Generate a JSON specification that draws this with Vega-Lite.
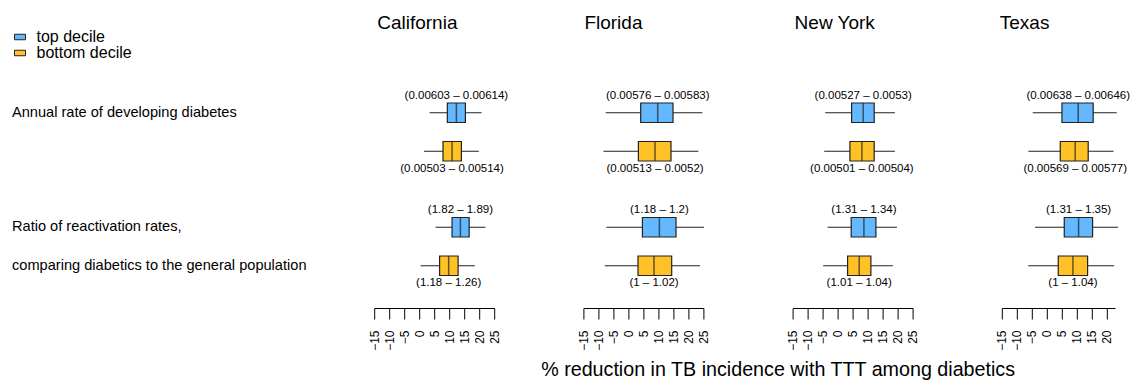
{
  "$schema": "https://vega.github.io/schema/vega-lite/v6.json",
  "padding": {"left": 12, "top": 13.5, "right": 5, "bottom": 5},
  "autosize": {"type": "pad"},
  "bounds": "flush",
  "spacing": 89.2,
  "config": {
    "font": "Liberation Sans",
    "view": {"stroke": null},
    "axis": {"grid": false, "domainColor": "black", "tickColor": "black", "labelColor": "black", "titleColor": "black", "labelFont": "Liberation Sans", "titleFont": "Liberation Sans"},
    "axisX": {"labelAngle": -90, "tickSize": 11, "labelPadding": 11, "labelFontSize": 12, "labelOverlap": false, "labelFlush": false, "labelBound": false,
      "titleFontSize": 19.7, "titleFontWeight": "normal", "titleX": -15, "titleY": 61, "titleAlign": "center", "titleBaseline": "middle"},
    "legend": {"rowPadding": -4, "padding": 0},
    "title": {"font": "Liberation Sans", "color": "black", "fontWeight": "normal", "frame": "group", "anchor": "start", "align": "left", "fontSize": 19, "offset": 38}
  },
  "resolve": {"scale": {"x": "independent"}},
  "datasets": {
    "boxes": [
      {"state": "California", "measure": "Annual", "decile": "top decile", "lo": 3.45, "q1": 9.38, "med": 12.4, "q3": 15.4, "hi": 20.8, "label": "(0.00603 – 0.00614)"},
      {"state": "California", "measure": "Annual", "decile": "bottom decile", "lo": 1.57, "q1": 7.94, "med": 10.95, "q3": 14.07, "hi": 19.87, "label": "(0.00503 – 0.00514)"},
      {"state": "California", "measure": "Ratio", "decile": "top decile", "lo": 5.46, "q1": 10.95, "med": 13.74, "q3": 16.65, "hi": 22.1, "label": "(1.82 – 1.89)"},
      {"state": "California", "measure": "Ratio", "decile": "bottom decile", "lo": 0.44, "q1": 6.8, "med": 9.82, "q3": 12.97, "hi": 18.53, "label": "(1.18 – 1.26)"},
      {"state": "Florida", "measure": "Annual", "decile": "top decile", "lo": -7.57, "q1": 4.1, "med": 9.77, "q3": 14.87, "hi": 24.67, "label": "(0.00576 – 0.00583)"},
      {"state": "Florida", "measure": "Annual", "decile": "bottom decile", "lo": -8.33, "q1": 3.33, "med": 8.87, "q3": 14.2, "hi": 23.33, "label": "(0.00513 – 0.0052)"},
      {"state": "Florida", "measure": "Ratio", "decile": "top decile", "lo": -7.33, "q1": 4.67, "med": 10.33, "q3": 15.87, "hi": 25.2, "label": "(1.18 – 1.2)"},
      {"state": "Florida", "measure": "Ratio", "decile": "bottom decile", "lo": -7.9, "q1": 3.2, "med": 8.53, "q3": 14.43, "hi": 23.87, "label": "(1 – 1.02)"},
      {"state": "New York", "measure": "Annual", "decile": "top decile", "lo": -4.13, "q1": 4.67, "med": 8.53, "q3": 12.2, "hi": 19.1, "label": "(0.00527 – 0.0053)"},
      {"state": "New York", "measure": "Annual", "decile": "bottom decile", "lo": -4.47, "q1": 4.1, "med": 8.1, "q3": 12.2, "hi": 19.1, "label": "(0.00501 – 0.00504)"},
      {"state": "New York", "measure": "Ratio", "decile": "top decile", "lo": -3.33, "q1": 4.53, "med": 8.77, "q3": 12.77, "hi": 19.77, "label": "(1.31 – 1.34)"},
      {"state": "New York", "measure": "Ratio", "decile": "bottom decile", "lo": -4.8, "q1": 3.33, "med": 7.2, "q3": 11.1, "hi": 18.43, "label": "(1.01 – 1.04)"},
      {"state": "Texas", "measure": "Annual", "decile": "top decile", "lo": -4.69, "q1": 5.05, "med": 10.47, "q3": 15.46, "hi": 23.34, "label": "(0.00638 – 0.00646)"},
      {"state": "Texas", "measure": "Annual", "decile": "bottom decile", "lo": -6.15, "q1": 4.49, "med": 9.47, "q3": 13.8, "hi": 22.24, "label": "(0.00569 – 0.00577)"},
      {"state": "Texas", "measure": "Ratio", "decile": "top decile", "lo": -3.92, "q1": 5.82, "med": 10.6, "q3": 15.26, "hi": 23.77, "label": "(1.31 – 1.35)"},
      {"state": "Texas", "measure": "Ratio", "decile": "bottom decile", "lo": -6.15, "q1": 3.82, "med": 8.71, "q3": 13.6, "hi": 22.44, "label": "(1 – 1.04)"}
    ],
    "rowlabels": [
      {"measure": "Annual", "decile": "top decile", "text": "Annual rate of developing diabetes"},
      {"measure": "Ratio", "decile": "top decile", "text": "Ratio of reactivation rates,"},
      {"measure": "Ratio", "decile": "bottom decile", "text": "comparing diabetics to the general population"}
    ]
  },
  "hconcat": [
    {
      "width": 272.1, "height": 237.5,
      "data": {"name": "rowlabels"},
      "mark": {"type": "text", "align": "left", "baseline": "middle", "fontSize": 14.6, "color": "black"},
      "encoding": {
        "x": {"value": 0},
        "y": {"field": "measure", "type": "nominal", "scale": {"domain": ["Annual", "Ratio"], "paddingInner": 0.3275, "paddingOuter": 0.2009}, "axis": null},
        "yOffset": {"field": "decile", "type": "nominal", "scale": {"domain": ["top decile", "bottom decile"], "paddingInner": 0, "paddingOuter": 0}},
        "text": {"field": "text"}
      }
    },
    {
      "title": {"text": "California", "dx": 3},
      "width": 120, "height": 237.5,
      "data": {"name": "boxes"},
      "transform": [{"filter": "datum.state === 'California'"}],
      "encoding": {
        "y": {"field": "measure", "type": "nominal", "scale": {"domain": ["Annual", "Ratio"], "paddingInner": 0.3275, "paddingOuter": 0.2009}, "axis": null},
        "yOffset": {"field": "decile", "type": "nominal", "scale": {"domain": ["top decile", "bottom decile"], "paddingInner": 0, "paddingOuter": 0}}
      },
      "layer": [
        {"mark": {"type": "rule", "color": "#222", "strokeWidth": 1.1},
         "encoding": {"x": {"field": "lo", "type": "quantitative", "title": null, "scale": {"domain": [-15, 25], "nice": false, "zero": false}, "axis": {"values": [-15, -10, -5, 0, 5, 10, 15, 20, 25]}},
           "x2": {"field": "hi"}}},
        {"mark": {"type": "bar", "size": 19.5, "stroke": "#222", "strokeWidth": 1.2},
         "encoding": {"x": {"field": "q1", "type": "quantitative", "title": null, "axis": {"values": [-15, -10, -5, 0, 5, 10, 15, 20, 25]}}, "x2": {"field": "q3"},
           "color": {"field": "decile", "type": "nominal", "scale": {"domain": ["top decile", "bottom decile"], "range": ["#63B8FF", "#FFC125"]},
             "legend": {"title": null, "orient": "none", "legendX": 0, "legendY": -41.5, "padding": 0, "labelFontSize": 16, "labelColor": "black", "labelOffset": 8.5, "rowPadding": -4, "symbolType": "M-1,-0.5H1V0.5H-1Z", "symbolSize": 121, "symbolStrokeColor": "#222", "symbolStrokeWidth": 1}}}},
        {"mark": {"type": "tick", "orient": "vertical", "size": 19.5, "thickness": 1.5, "color": "#222"},
         "encoding": {"x": {"field": "med", "type": "quantitative", "title": null, "axis": {"values": [-15, -10, -5, 0, 5, 10, 15, 20, 25]}}}},
        {"transform": [{"filter": "datum.decile === 'top decile'"}],
         "mark": {"type": "text", "dy": -17, "fontSize": 11.5, "color": "black", "baseline": "middle"},
         "encoding": {"x": {"field": "med", "type": "quantitative", "title": null, "axis": {"values": [-15, -10, -5, 0, 5, 10, 15, 20, 25]}}, "text": {"field": "label"}}},
        {"transform": [{"filter": "datum.decile === 'bottom decile'"}],
         "mark": {"type": "text", "dy": 17.5, "fontSize": 11.5, "color": "black", "baseline": "middle"},
         "encoding": {"x": {"field": "med", "type": "quantitative", "title": null, "axis": {"values": [-15, -10, -5, 0, 5, 10, 15, 20, 25]}}, "text": {"field": "label"}}}
      ]
    },
    {
      "title": {"text": "Florida", "dx": 1},
      "width": 120, "height": 237.5,
      "data": {"name": "boxes"},
      "transform": [{"filter": "datum.state === 'Florida'"}],
      "encoding": {
        "y": {"field": "measure", "type": "nominal", "scale": {"domain": ["Annual", "Ratio"], "paddingInner": 0.3275, "paddingOuter": 0.2009}, "axis": null},
        "yOffset": {"field": "decile", "type": "nominal", "scale": {"domain": ["top decile", "bottom decile"], "paddingInner": 0, "paddingOuter": 0}}
      },
      "layer": [
        {"mark": {"type": "rule", "color": "#222", "strokeWidth": 1.1},
         "encoding": {"x": {"field": "lo", "type": "quantitative", "title": null, "scale": {"domain": [-15, 25], "nice": false, "zero": false}, "axis": {"values": [-15, -10, -5, 0, 5, 10, 15, 20, 25]}},
           "x2": {"field": "hi"}}},
        {"mark": {"type": "bar", "size": 19.5, "stroke": "#222", "strokeWidth": 1.2},
         "encoding": {"x": {"field": "q1", "type": "quantitative", "title": null, "axis": {"values": [-15, -10, -5, 0, 5, 10, 15, 20, 25]}}, "x2": {"field": "q3"},
           "color": {"field": "decile", "type": "nominal", "scale": {"domain": ["top decile", "bottom decile"], "range": ["#63B8FF", "#FFC125"]},
             "legend": {"title": null, "orient": "none", "legendX": 0, "legendY": -41.5, "padding": 0, "labelFontSize": 16, "labelColor": "black", "labelOffset": 8.5, "rowPadding": -4, "symbolType": "M-1,-0.5H1V0.5H-1Z", "symbolSize": 121, "symbolStrokeColor": "#222", "symbolStrokeWidth": 1}}}},
        {"mark": {"type": "tick", "orient": "vertical", "size": 19.5, "thickness": 1.5, "color": "#222"},
         "encoding": {"x": {"field": "med", "type": "quantitative", "title": null, "axis": {"values": [-15, -10, -5, 0, 5, 10, 15, 20, 25]}}}},
        {"transform": [{"filter": "datum.decile === 'top decile'"}],
         "mark": {"type": "text", "dy": -17, "fontSize": 11.5, "color": "black", "baseline": "middle"},
         "encoding": {"x": {"field": "med", "type": "quantitative", "title": null, "axis": {"values": [-15, -10, -5, 0, 5, 10, 15, 20, 25]}}, "text": {"field": "label"}}},
        {"transform": [{"filter": "datum.decile === 'bottom decile'"}],
         "mark": {"type": "text", "dy": 17.5, "fontSize": 11.5, "color": "black", "baseline": "middle"},
         "encoding": {"x": {"field": "med", "type": "quantitative", "title": null, "axis": {"values": [-15, -10, -5, 0, 5, 10, 15, 20, 25]}}, "text": {"field": "label"}}}
      ]
    },
    {
      "title": {"text": "New York", "dx": 2},
      "width": 120, "height": 237.5,
      "data": {"name": "boxes"},
      "transform": [{"filter": "datum.state === 'New York'"}],
      "encoding": {
        "y": {"field": "measure", "type": "nominal", "scale": {"domain": ["Annual", "Ratio"], "paddingInner": 0.3275, "paddingOuter": 0.2009}, "axis": null},
        "yOffset": {"field": "decile", "type": "nominal", "scale": {"domain": ["top decile", "bottom decile"], "paddingInner": 0, "paddingOuter": 0}}
      },
      "layer": [
        {"mark": {"type": "rule", "color": "#222", "strokeWidth": 1.1},
         "encoding": {"x": {"field": "lo", "type": "quantitative", "title": "% reduction in TB incidence with TTT among diabetics", "scale": {"domain": [-15, 25], "nice": false, "zero": false}, "axis": {"values": [-15, -10, -5, 0, 5, 10, 15, 20, 25]}},
           "x2": {"field": "hi"}}},
        {"mark": {"type": "bar", "size": 19.5, "stroke": "#222", "strokeWidth": 1.2},
         "encoding": {"x": {"field": "q1", "type": "quantitative", "title": "% reduction in TB incidence with TTT among diabetics", "axis": {"values": [-15, -10, -5, 0, 5, 10, 15, 20, 25]}}, "x2": {"field": "q3"},
           "color": {"field": "decile", "type": "nominal", "scale": {"domain": ["top decile", "bottom decile"], "range": ["#63B8FF", "#FFC125"]},
             "legend": {"title": null, "orient": "none", "legendX": 0, "legendY": -41.5, "padding": 0, "labelFontSize": 16, "labelColor": "black", "labelOffset": 8.5, "rowPadding": -4, "symbolType": "M-1,-0.5H1V0.5H-1Z", "symbolSize": 121, "symbolStrokeColor": "#222", "symbolStrokeWidth": 1}}}},
        {"mark": {"type": "tick", "orient": "vertical", "size": 19.5, "thickness": 1.5, "color": "#222"},
         "encoding": {"x": {"field": "med", "type": "quantitative", "title": "% reduction in TB incidence with TTT among diabetics", "axis": {"values": [-15, -10, -5, 0, 5, 10, 15, 20, 25]}}}},
        {"transform": [{"filter": "datum.decile === 'top decile'"}],
         "mark": {"type": "text", "dy": -17, "fontSize": 11.5, "color": "black", "baseline": "middle"},
         "encoding": {"x": {"field": "med", "type": "quantitative", "title": "% reduction in TB incidence with TTT among diabetics", "axis": {"values": [-15, -10, -5, 0, 5, 10, 15, 20, 25]}}, "text": {"field": "label"}}},
        {"transform": [{"filter": "datum.decile === 'bottom decile'"}],
         "mark": {"type": "text", "dy": 17.5, "fontSize": 11.5, "color": "black", "baseline": "middle"},
         "encoding": {"x": {"field": "med", "type": "quantitative", "title": "% reduction in TB incidence with TTT among diabetics", "axis": {"values": [-15, -10, -5, 0, 5, 10, 15, 20, 25]}}, "text": {"field": "label"}}}
      ]
    },
    {
      "title": {"text": "Texas", "dx": -2},
      "width": 113.25, "height": 237.5,
      "data": {"name": "boxes"},
      "transform": [{"filter": "datum.state === 'Texas'"}],
      "encoding": {
        "y": {"field": "measure", "type": "nominal", "scale": {"domain": ["Annual", "Ratio"], "paddingInner": 0.3275, "paddingOuter": 0.2009}, "axis": null},
        "yOffset": {"field": "decile", "type": "nominal", "scale": {"domain": ["top decile", "bottom decile"], "paddingInner": 0, "paddingOuter": 0}}
      },
      "layer": [
        {"mark": {"type": "rule", "color": "#222", "strokeWidth": 1.1},
         "encoding": {"x": {"field": "lo", "type": "quantitative", "title": null, "scale": {"domain": [-15, 22.75], "nice": false, "zero": false}, "axis": {"values": [-15, -10, -5, 0, 5, 10, 15, 20]}},
           "x2": {"field": "hi"}}},
        {"mark": {"type": "bar", "size": 19.5, "stroke": "#222", "strokeWidth": 1.2},
         "encoding": {"x": {"field": "q1", "type": "quantitative", "title": null, "axis": {"values": [-15, -10, -5, 0, 5, 10, 15, 20]}}, "x2": {"field": "q3"},
           "color": {"field": "decile", "type": "nominal", "scale": {"domain": ["top decile", "bottom decile"], "range": ["#63B8FF", "#FFC125"]},
             "legend": {"title": null, "orient": "none", "legendX": 0, "legendY": -41.5, "padding": 0, "labelFontSize": 16, "labelColor": "black", "labelOffset": 8.5, "rowPadding": -4, "symbolType": "M-1,-0.5H1V0.5H-1Z", "symbolSize": 121, "symbolStrokeColor": "#222", "symbolStrokeWidth": 1}}}},
        {"mark": {"type": "tick", "orient": "vertical", "size": 19.5, "thickness": 1.5, "color": "#222"},
         "encoding": {"x": {"field": "med", "type": "quantitative", "title": null, "axis": {"values": [-15, -10, -5, 0, 5, 10, 15, 20]}}}},
        {"transform": [{"filter": "datum.decile === 'top decile'"}],
         "mark": {"type": "text", "dy": -17, "fontSize": 11.5, "color": "black", "baseline": "middle"},
         "encoding": {"x": {"field": "med", "type": "quantitative", "title": null, "axis": {"values": [-15, -10, -5, 0, 5, 10, 15, 20]}}, "text": {"field": "label"}}},
        {"transform": [{"filter": "datum.decile === 'bottom decile'"}],
         "mark": {"type": "text", "dy": 17.5, "fontSize": 11.5, "color": "black", "baseline": "middle"},
         "encoding": {"x": {"field": "med", "type": "quantitative", "title": null, "axis": {"values": [-15, -10, -5, 0, 5, 10, 15, 20]}}, "text": {"field": "label"}}}
      ]
    }
  ]
}
